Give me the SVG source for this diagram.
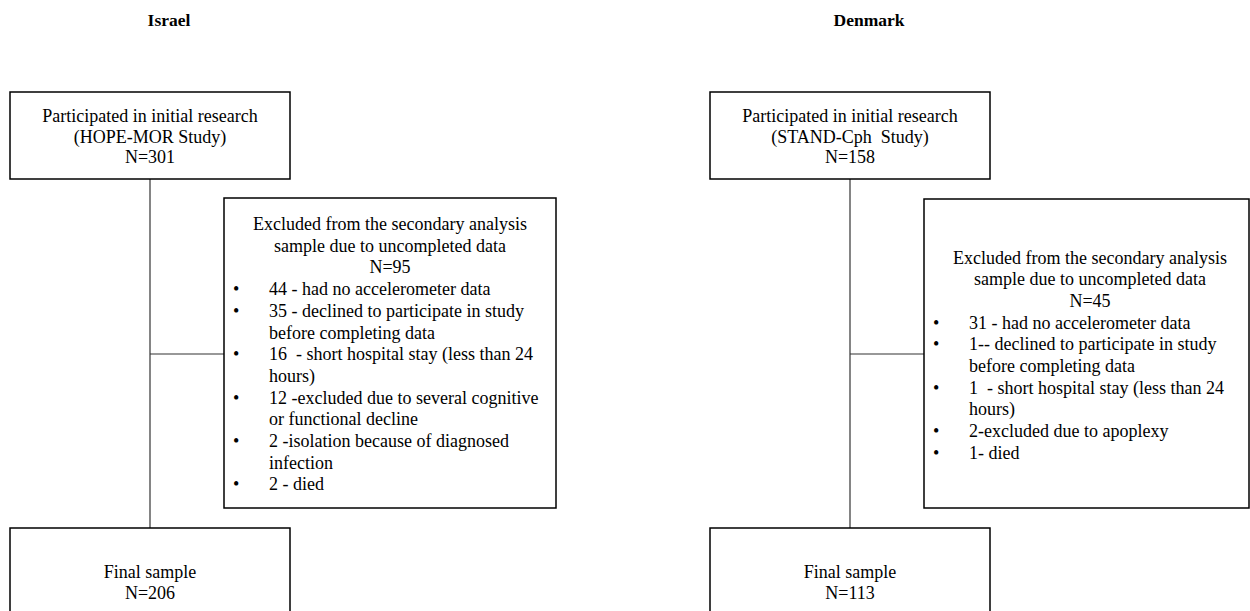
<svg xmlns="http://www.w3.org/2000/svg" width="1250" height="611" viewBox="0 0 1250 611">
<style>
.bg{fill:#ffffff}
.box{fill:#ffffff;stroke:#000000;stroke-width:1.5}
.ln{fill:none;stroke:#333333;stroke-width:1.2}
text{font-family:"Liberation Serif","Times New Roman",serif;font-size:18px;fill:#000000;white-space:pre}
.c{text-anchor:middle}
.t{font-weight:bold;font-size:17.5px}
</style>
<rect class="bg" x="0" y="0" width="1250" height="611"/>
<g id="titles">
<text class="c t" x="169" y="26">Israel</text>
<text class="c t" x="869" y="26">Denmark</text>
</g>
<g id="connectors">
<line class="ln" x1="150" y1="179" x2="150" y2="528"/>
<line class="ln" x1="150" y1="354" x2="224" y2="354"/>
<line class="ln" x1="850" y1="179" x2="850" y2="528"/>
<line class="ln" x1="850" y1="354" x2="924" y2="354"/>
</g>
<g id="il-initial">
<rect class="box" x="10" y="92" width="280" height="87"/>
<text class="c" x="150" y="122">Participated in initial research</text>
<text class="c" x="150" y="142.5">(HOPE-MOR Study)</text>
<text class="c" x="150" y="163">N=301</text>
</g>
<g id="il-excluded">
<rect class="box" x="224" y="198" width="332" height="310"/>
<text class="c" x="390" y="230">Excluded from the secondary analysis</text>
<text class="c" x="390" y="251.7">sample due to uncompleted data</text>
<text class="c" x="390" y="273.4">N=95</text>
<text x="233" y="295.1">•</text><text x="269" y="295.1">44 - had no accelerometer data</text>
<text x="233" y="316.8">•</text><text x="269" y="316.8">35 - declined to participate in study</text>
<text x="269" y="338.5">before completing data</text>
<text x="233" y="360.2">•</text><text x="269" y="360.2">16  - short hospital stay (less than 24</text>
<text x="269" y="381.9">hours)</text>
<text x="233" y="403.6">•</text><text x="269" y="403.6">12 -excluded due to several cognitive</text>
<text x="269" y="425.3">or functional decline</text>
<text x="233" y="447">•</text><text x="269" y="447">2 -isolation because of diagnosed</text>
<text x="269" y="468.7">infection</text>
<text x="233" y="490.4">•</text><text x="269" y="490.4">2 - died</text>
</g>
<g id="il-final">
<rect class="box" x="10" y="528" width="280" height="100"/>
<text class="c" x="150" y="578">Final sample</text>
<text class="c" x="150" y="599">N=206</text>
</g>
<g id="dk-initial">
<rect class="box" x="710" y="92" width="280" height="87"/>
<text class="c" x="850" y="122">Participated in initial research</text>
<text class="c" x="850" y="142.5">(STAND-Cph  Study)</text>
<text class="c" x="850" y="163">N=158</text>
</g>
<g id="dk-excluded">
<rect class="box" x="924" y="199" width="325" height="309"/>
<text class="c" x="1090" y="263.5">Excluded from the secondary analysis</text>
<text class="c" x="1090" y="285.2">sample due to uncompleted data</text>
<text class="c" x="1090" y="306.9">N=45</text>
<text x="933" y="328.6">•</text><text x="969" y="328.6">31 - had no accelerometer data</text>
<text x="933" y="350.3">•</text><text x="969" y="350.3">1-- declined to participate in study</text>
<text x="969" y="372">before completing data</text>
<text x="933" y="393.7">•</text><text x="969" y="393.7">1  - short hospital stay (less than 24</text>
<text x="969" y="415.4">hours)</text>
<text x="933" y="437.1">•</text><text x="969" y="437.1">2-excluded due to apoplexy</text>
<text x="933" y="458.8">•</text><text x="969" y="458.8">1- died</text>
</g>
<g id="dk-final">
<rect class="box" x="710" y="528" width="280" height="100"/>
<text class="c" x="850" y="578">Final sample</text>
<text class="c" x="850" y="599">N=113</text>
</g>
</svg>
